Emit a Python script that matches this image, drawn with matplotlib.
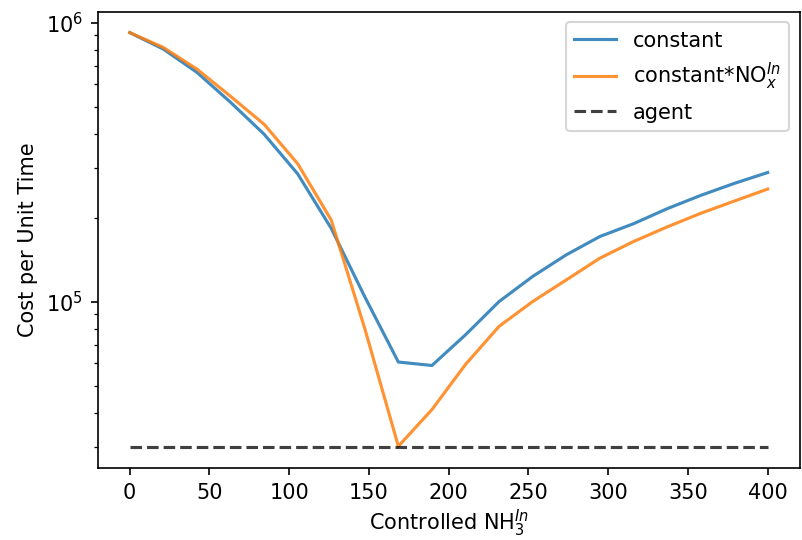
# -*- coding: utf-8 -*-

import numpy as np
import matplotlib
matplotlib.use('Agg')
import matplotlib.pyplot as plt

# controlled NH3 inlet values (20 evenly spaced steps 0..400)
nh3_in = np.linspace(0, 400, 20)

cost_constant = [9.2e5, 8.03e5, 6.63e5, 5.18e5, 3.98e5, 2.87e5, 1.83e5, 1.04e5,
                 6.07e4, 5.9e4, 7.6e4, 1.0e5, 1.23e5, 1.47e5, 1.71e5, 1.9e5,
                 2.15e5, 2.4e5, 2.65e5, 2.9e5]
cost_constant_nox = [9.2e5, 8.14e5, 6.81e5, 5.44e5, 4.32e5, 3.12e5, 1.96e5, 8.0e4,
                     3.03e4, 4.1e4, 5.95e4, 8.15e4, 1.0e5, 1.195e5, 1.43e5, 1.64e5,
                     1.85e5, 2.07e5, 2.29e5, 2.53e5]
cost_agent = 3.0e4

DPI = 150
fig = plt.figure(figsize=(802 / DPI, 540 / DPI), dpi=DPI)
ax = fig.add_axes([0.122, 0.133, 0.875, 0.845])
ax.plot(nh3_in, cost_constant, alpha=0.85, label='constant')
ax.plot(nh3_in, cost_constant_nox, alpha=0.85, label='constant*NO$_x^{In}$')
ax.plot(nh3_in, [cost_agent] * len(nh3_in), 'k--', alpha=0.75, label='agent')
ax.set_yscale('log')
ax.set_xlabel('Controlled NH$_3^{In}$', labelpad=2.5)
ax.set_ylabel('Cost per Unit Time')
ax.legend(loc='upper right')
fig.savefig('out.png', dpi=DPI)
